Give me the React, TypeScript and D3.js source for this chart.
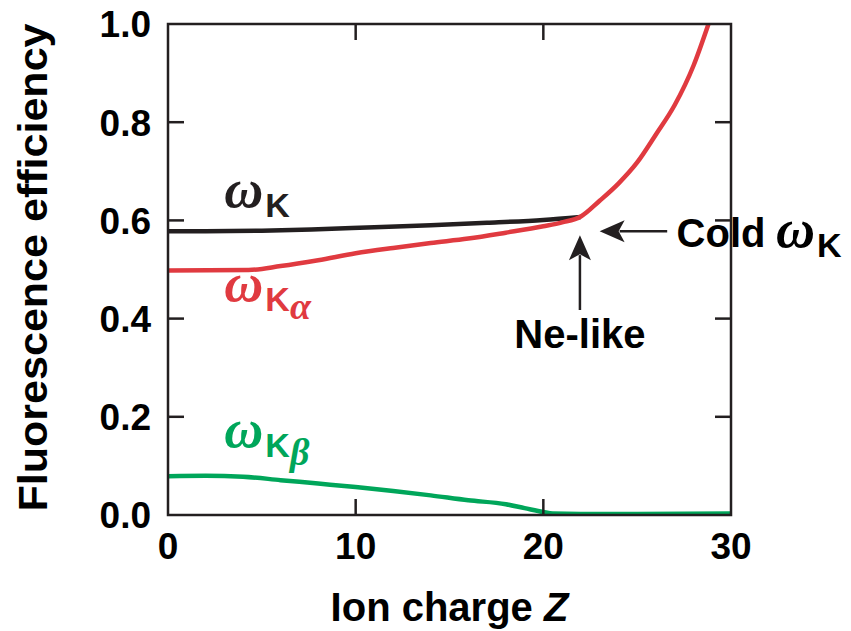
import React from "react";
import * as d3 from "d3";

// values
const zK = [0, 2, 5, 8, 11, 14, 17, 20, 22];
const wK = [0.578, 0.578, 0.579, 0.582, 0.586, 0.59, 0.595, 0.601, 0.607];

const zKa = [0, 4.3, 6, 8, 10, 12, 14, 16, 18, 20, 21, 22, 23, 24, 25, 26, 27, 28, 28.8];
const wKa = [0.498, 0.499, 0.507, 0.519, 0.533, 0.544, 0.554, 0.563, 0.575, 0.588, 0.596, 0.608, 0.64, 0.675, 0.718, 0.775, 0.835, 0.915, 1.0];

const zKb = [0, 2, 4, 6, 8, 10, 12, 14, 16, 18, 19, 20, 20.5, 22, 25, 30];
const wKb = [0.079, 0.08, 0.078, 0.071, 0.064, 0.057, 0.049, 0.04, 0.03, 0.022, 0.014, 0.006, 0.003, 0.002, 0.002, 0.003];

const xTicks = [0, 10, 20, 30];
const yTicks = [0, 0.2, 0.4, 0.6, 0.8, 1.0];

const width = 851;
const height = 631;
const margin = {top: 24, right: 120, bottom: 116, left: 168};
const innerW = 731 - margin.left;
const innerH = 515 - margin.top;

const sans = "'Liberation Sans', Arial, Helvetica, sans-serif";
const serif = "'Liberation Serif', 'Times New Roman', serif";
const ink = "#231f20";
const red = "#e03a40";
const green = "#00a65a";

const x = d3.scaleLinear().domain([0, 30]).range([0, innerW]);
const y = d3.scaleLinear().domain([0, 1]).range([innerH, 0]);

const line = d3.line<[number, number]>()
    .x(d => x(d[0]))
    .y(d => y(d[1]))
    .curve(d3.curveMonotoneX);

const zip = (a: number[], b: number[]) => a.map((v, i) => [v, b[i]] as [number, number]);

const Omega: React.FC<{ px: number; py: number; color: string; sub?: string }> = ({px, py, color, sub}) => (
    <text x={px} y={py} fill={color}>
        <tspan fontFamily={serif} fontStyle="italic" fontWeight="bold" fontSize={54}>ω</tspan>
        <tspan fontFamily={sans} fontWeight="bold" fontSize={34} dx={2} dy={10}>K</tspan>
        {sub && <tspan fontFamily={serif} fontStyle="italic" fontWeight="bold" fontSize={38} dy={8}>{sub}</tspan>}
    </text>
);

export default function App() {
    const tick = 16;
    return (
        <svg width={width} height={height} style={{position: "absolute", left: 0, top: 0}}>
            <rect width={width} height={height} fill="white"/>
            <defs>
                <clipPath id="plot">
                    <rect x={0} y={0} width={innerW} height={innerH}/>
                </clipPath>
            </defs>
            <g transform={`translate(${margin.left},${margin.top})`}>
                {/* curves */}
                <g clipPath="url(#plot)" fill="none" strokeWidth={4.5} strokeLinejoin="round">
                    <path d={line(zip(zKb, wKb)) || ""} stroke={green}/>
                    <path d={line(zip(zK, wK)) || ""} stroke={ink}/>
                    <path d={line(zip(zKa, wKa)) || ""} stroke={red}/>
                </g>

                {/* frame + mirrored inward ticks */}
                <rect x={0} y={0} width={innerW} height={innerH} fill="none" stroke={ink} strokeWidth={2.5}/>
                {yTicks.slice(1, -1).map(t => (
                    <g key={"y" + t} stroke={ink} strokeWidth={2.5}>
                        <line x1={0} x2={tick} y1={y(t)} y2={y(t)}/>
                        <line x1={innerW - tick} x2={innerW} y1={y(t)} y2={y(t)}/>
                    </g>
                ))}
                {xTicks.slice(1, -1).map(t => (
                    <g key={"x" + t} stroke={ink} strokeWidth={2.5}>
                        <line x1={x(t)} x2={x(t)} y1={innerH} y2={innerH - tick}/>
                        <line x1={x(t)} x2={x(t)} y1={0} y2={tick}/>
                    </g>
                ))}

                {/* tick labels */}
                <g fontFamily={sans} fontWeight="bold" fontSize={37} fill="#000">
                    {yTicks.map(t => (
                        <text key={"yl" + t} x={-17} y={y(t)} dy="0.36em" textAnchor="end">{t.toFixed(1)}</text>
                    ))}
                    {xTicks.map(t => (
                        <text key={"xl" + t} x={x(t)} y={innerH + 44} textAnchor="middle">{t}</text>
                    ))}
                </g>

                {/* axis titles */}
                <text x={innerW / 2} y={innerH + 106} textAnchor="middle" fontFamily={sans} fontWeight="bold" fontSize={40}>
                    Ion charge <tspan fontStyle="italic">Z</tspan>
                </text>
                <text transform={`translate(${-121},${innerH / 2 - 2}) rotate(-90)`} textAnchor="middle"
                      fontFamily={sans} fontWeight="bold" fontSize={41} textLength={488} lengthAdjust="spacingAndGlyphs">
                    Fluorescence efficiency
                </text>

                {/* curve labels */}
                <Omega px={x(3.0)} py={y(0.627)} color={ink}/>
                <Omega px={x(3.0)} py={y(0.435)} color={red} sub="α"/>
                <Omega px={x(3.0)} py={y(0.138)} color={green} sub="β"/>

                {/* annotations */}
                <g stroke={ink} strokeWidth={2.5} fill={ink}>
                    <line x1={x(26.6)} x2={x(23.0) + 20} y1={y(0.578)} y2={y(0.578)}/>
                    <path stroke="none" d={`M${x(23.0)},${y(0.578)} l25,-11 l-6,11 l6,11 z`}/>
                    <line x1={x(21.95)} x2={x(21.95)} y1={y(0.4175)} y2={y(0.57) + 20}/>
                    <path stroke="none" d={`M${x(21.95)},${y(0.57)} l-11,25 l11,-6 l11,6 z`}/>
                </g>
                <text x={x(27.1)} y={y(0.546)} fontFamily={sans} fontWeight="bold" fontSize={40}>
                    Cold
                </text>
                <Omega px={x(32.4)} py={y(0.546)} color="#000"/>
                <text x={x(21.95)} y={y(0.34)} textAnchor="middle" fontFamily={sans} fontWeight="bold" fontSize={40}>
                    Ne-like
                </text>
            </g>
        </svg>
    );
}
